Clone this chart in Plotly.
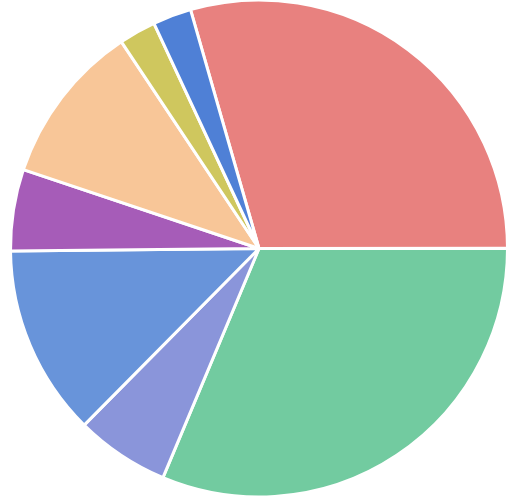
import plotly.graph_objects as go

labels = ["A", "B", "C", "D", "E", "F", "G", "H"]
values = [29.4, 31.3, 6.1, 12.4, 5.3, 10.5, 2.4, 2.5]
colors = ["#E8817F", "#72CBA0", "#8A95DA", "#6894DA", "#A65CB8", "#F8C698", "#CFC75E", "#4F80D6"]

fig = go.Figure(go.Pie(
    labels=labels,
    values=values,
    sort=False,
    direction="clockwise",
    rotation=-16,
    textinfo="none",
    hoverinfo="label+percent",
    marker=dict(colors=colors, line=dict(color="white", width=3)),
    domain=dict(x=[9/509, 1.0], y=[0, 1]),
    showlegend=False,
))
fig.update_layout(
    width=509, height=497,
    margin=dict(l=0, r=0, t=0, b=0),
    paper_bgcolor="white", plot_bgcolor="white",
)
fig.write_html("out.html")
